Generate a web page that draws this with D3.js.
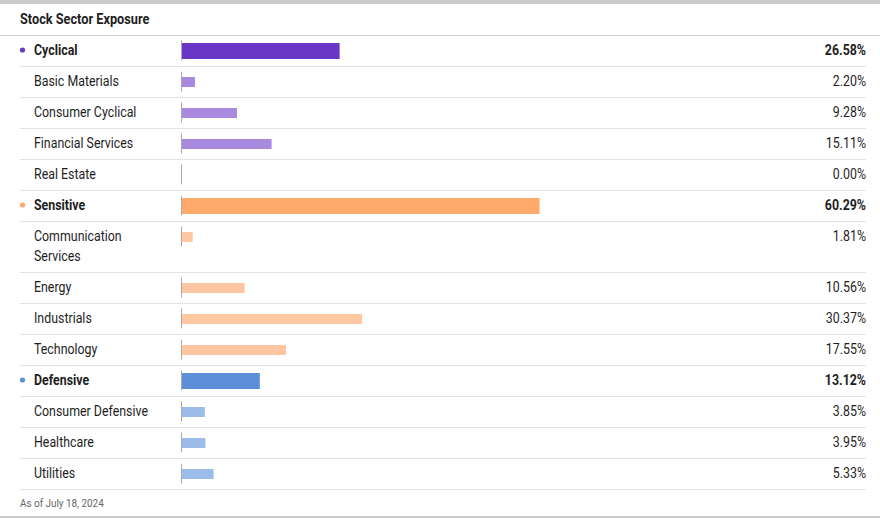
<!DOCTYPE html>
<html><head><meta charset="utf-8">
<script src="https://cdn.jsdelivr.net/npm/d3@7"></script>
<style>body{margin:0;background:#fff;}svg{display:block;font-family:Roboto,"Noto Sans",sans-serif;}</style>
</head><body><svg id="c" width="880" height="519"></svg>
<script>
const title = "Stock Sector Exposure";
const footnote = "As of July 18, 2024";
const names = ["Cyclical","Basic Materials","Consumer Cyclical","Financial Services","Real Estate","Sensitive","Communication Services","Energy","Industrials","Technology","Defensive","Consumer Defensive","Healthcare","Utilities"];
const values = [26.58,2.20,9.28,15.11,0.00,60.29,1.81,10.56,30.37,17.55,13.12,3.85,3.95,5.33];
const isGroup = [true,false,false,false,false,true,false,false,false,false,true,false,false,false];
const groupOf = [0,0,0,0,0,1,1,1,1,1,2,2,2,2];
const groupColors = ["#6a36c5","#ffa96b","#5b8fd9"];
const subColors = ["#a98ae0","#ffc7a1","#9cbde9"];
const SX = 0.885;

const svg = d3.select("#c");
svg.append("rect").attr("x",0).attr("y",0).attr("width",880).attr("height",4).attr("fill","#cccccc");
svg.append("text").attr("transform",`translate(20,24) scale(0.91,1)`).attr("font-size",14).attr("font-weight",700).attr("fill","#1e1e1e").text(title);
svg.append("line").attr("x1",0).attr("x2",880).attr("y1",35.5).attr("y2",35.5).attr("stroke","#d0d0d0");

const x = d3.scaleLinear().domain([0,100]).range([182,775]);
const rowH = names.map(n => n === "Communication Services" ? 51 : 31);
let y0 = 35.5;
const tops = rowH.map(h => { const t = y0; y0 += h; return t; });

const rows = svg.selectAll("g.row").data(names).join("g").attr("class","row")
  .attr("transform",(d,i)=>`translate(0,${tops[i]})`);
rows.append("line").attr("x1",20).attr("x2",866).attr("y1",(d,i)=>rowH[i]).attr("y2",(d,i)=>rowH[i]).attr("stroke","#e2e2e2");
rows.filter((d,i)=>isGroup[i]).append("circle").attr("cx",22.5).attr("cy",14.5).attr("r",2.6)
  .attr("fill",(d)=>groupColors[groupOf[names.indexOf(d)]]);
rows.each(function(d,i){
  const g = d3.select(this);
  const t = g.append("text").attr("transform",`translate(34,19.5) scale(${SX},1)`).attr("font-size",14)
    .attr("font-weight",isGroup[i]?700:400).attr("fill","#1e1e1e");
  if (d === "Communication Services") {
    t.append("tspan").attr("x",0).attr("dy",0).text("Communication");
    t.append("tspan").attr("x",0).attr("dy",20).text("Services");
  } else t.text(d);
  g.append("line").attr("x1",181.5).attr("x2",181.5).attr("y1",5).attr("y2",25).attr("stroke","#aaaaaa");
  const bh = isGroup[i]?16:10;
  g.append("rect").attr("x",x(0)).attr("y",15.5-bh/2).attr("height",bh)
    .attr("width",x(values[i])-x(0))
    .attr("fill",isGroup[i]?groupColors[groupOf[i]]:subColors[groupOf[i]]);
  g.append("text").attr("transform",`translate(866,19.5) scale(${SX},1)`).attr("text-anchor","end").attr("font-size",14)
    .attr("font-weight",isGroup[i]?700:400).attr("fill","#1e1e1e").text(values[i].toFixed(2)+"%");
});
svg.append("text").attr("transform","translate(20,507) scale(0.9,1)").attr("font-size",11).attr("fill","#666").text(footnote);
svg.append("rect").attr("x",0).attr("y",516).attr("width",880).attr("height",2).attr("fill","#cccccc");
</script></body></html>
